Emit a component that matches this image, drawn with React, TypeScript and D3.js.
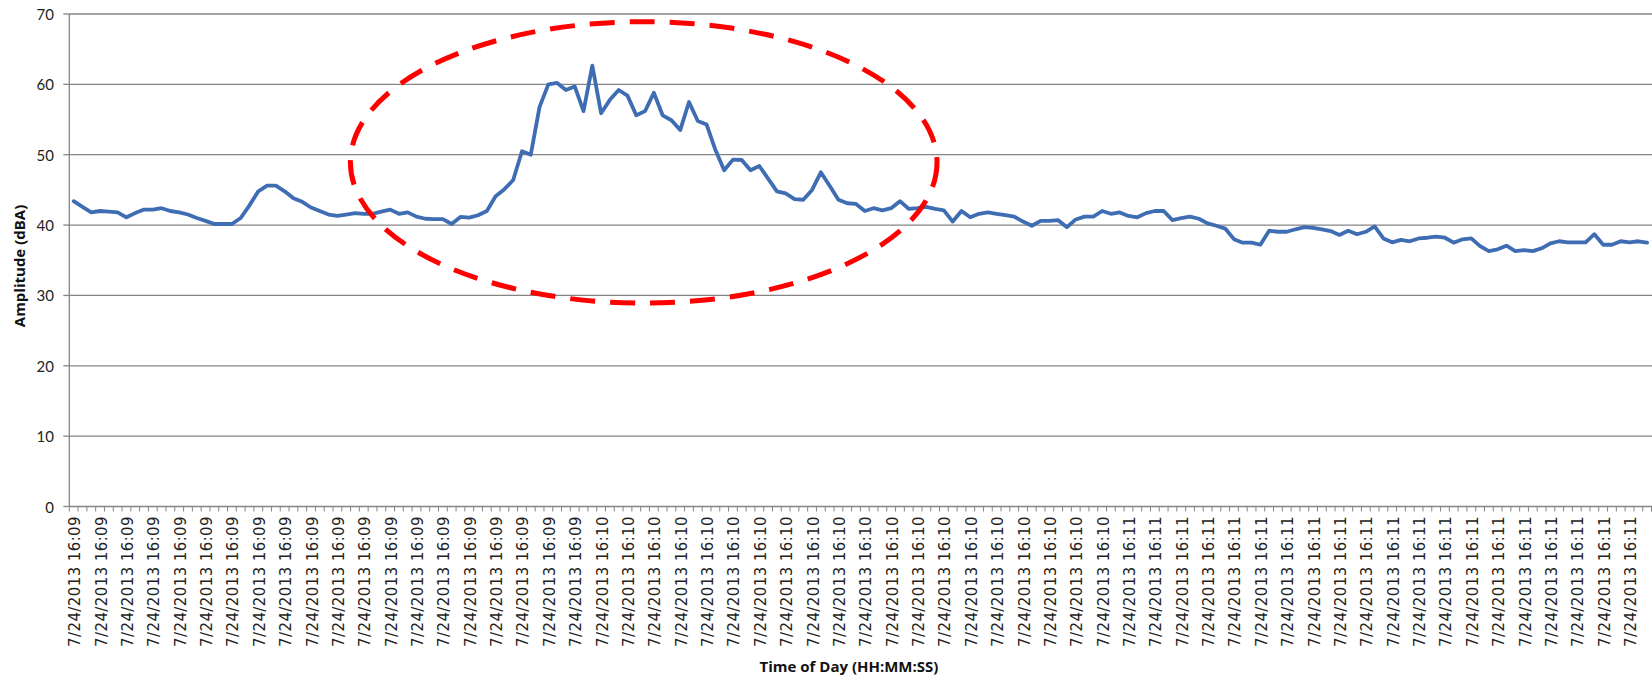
import React from "react";
import * as d3 from "d3";

// ---- Data ----
const amplitude: number[] = [
  43.4, 42.6, 41.8, 42.0, 41.9, 41.8, 41.1, 41.7, 42.2, 42.2,
  42.4, 42.0, 41.8, 41.5, 41.0, 40.6, 40.15, 40.15, 40.15, 41.0,
  42.8, 44.8, 45.6, 45.6, 44.8, 43.8, 43.3, 42.5, 42.0, 41.5,
  41.3, 41.5, 41.7, 41.6, 41.6, 41.9, 42.2, 41.6, 41.8, 41.2,
  40.9, 40.85, 40.85, 40.15, 41.15, 41.05, 41.4, 42.0, 44.1, 45.1,
  46.4, 50.5, 50.0, 56.8, 60.0, 60.2, 59.2, 59.7, 56.2, 62.65,
  55.9, 57.8, 59.2, 58.4, 55.6, 56.2, 58.8, 55.6, 54.9, 53.5,
  57.5, 54.8, 54.3, 50.7, 47.8, 49.3, 49.25, 47.8, 48.4, 46.6,
  44.8, 44.5, 43.7, 43.6, 45.0, 47.5, 45.6, 43.6, 43.1, 43.0,
  42.0, 42.4, 42.1, 42.4, 43.4, 42.3, 42.4, 42.6, 42.3, 42.1,
  40.5, 42.0, 41.1, 41.6, 41.8, 41.6, 41.4, 41.2, 40.5, 39.9,
  40.6, 40.6, 40.7, 39.7, 40.8, 41.2, 41.2, 42.0, 41.6, 41.8,
  41.3, 41.1, 41.7, 42.0, 42.0, 40.7, 41.0, 41.2, 40.9, 40.25,
  39.9, 39.5, 38.0, 37.5, 37.5, 37.2, 39.2, 39.05, 39.05, 39.4,
  39.7, 39.6, 39.4, 39.15, 38.6, 39.2, 38.7, 39.05, 39.8, 38.1,
  37.55, 37.9, 37.7, 38.1, 38.2, 38.35, 38.2, 37.5, 37.98, 38.1,
  37.0, 36.3, 36.55, 37.07, 36.3, 36.45, 36.3, 36.7, 37.4, 37.7,
  37.55, 37.55, 37.55, 38.7, 37.2, 37.2, 37.7, 37.55, 37.7, 37.5,
];
const minuteLabels: string[] = ["7/24/2013 16:09", "7/24/2013 16:10", "7/24/2013 16:11"];
const samplesPerMinute = 60;
const labelEvery = 3;
const yTicks: number[] = [0, 10, 20, 30, 40, 50, 60, 70];
const yTitle = "Amplitude (dBA)";
const xTitle = "Time of Day (HH:MM:SS)";

// category labels: one per sample
const categoryLabels: string[] = amplitude.map(
  (_, i) => minuteLabels[Math.floor(i / samplesPerMinute)]
);

export default function App() {
  const W = 1652;
  const H = 679;
  const x0 = 69.3;
  const x1 = 1651.5;
  const yTop = 14;
  const yBot = 506.5;

  const idx = amplitude.map((_, i) => i);
  const x = d3.scalePoint<number>().domain(idx).range([x0, x1]).padding(0.5);
  const step = (x1 - x0) / amplitude.length;
  const y = d3.scaleLinear().domain([0, 70]).range([yBot, yTop]);

  const line = d3
    .line<number>()
    .x((_, i) => x(i) as number)
    .y((d) => y(d));

  const tickBounds = d3.range(amplitude.length + 1).map((k) => x0 + k * step);
  const labelIdx = idx.filter((i) => i % labelEvery === 0);

  const gridColor = "#858585";

  return (
    <svg
      width={W}
      height={H}
      style={{ position: "absolute", left: 0, top: 0, background: "#fff" }}
      xmlns="http://www.w3.org/2000/svg"
    >
      <rect x={0} y={0} width={W} height={H} fill="#fff" />
      {/* gridlines */}
      {yTicks.filter((t) => t > 0).map((t) => (
        <line key={"g" + t} x1={x0} x2={W} y1={y(t)} y2={y(t)} stroke={gridColor} strokeWidth={1.3} />
      ))}
      {/* y axis */}
      <line x1={x0} x2={x0} y1={yTop} y2={yBot} stroke={gridColor} strokeWidth={1.3} />
      {yTicks.map((t) => (
        <line key={"yt" + t} x1={x0 - 6} x2={x0} y1={y(t)} y2={y(t)} stroke={gridColor} strokeWidth={1.3} />
      ))}
      {yTicks.map((t) => (
        <text
          key={"yl" + t}
          x={54}
          y={y(t)}
          textAnchor="end"
          dominantBaseline="central"
          fontFamily="Lato, 'Open Sans', sans-serif"
          fontSize={15}
          fill="#222"
        >
          {t}
        </text>
      ))}
      {/* x axis */}
      <line x1={x0} x2={W} y1={yBot} y2={yBot} stroke={gridColor} strokeWidth={1.3} />
      {tickBounds.map((tx, k) => (
        <line key={"xt" + k} x1={tx} x2={tx} y1={yBot} y2={yBot + 5} stroke={gridColor} strokeWidth={1} />
      ))}
      {labelIdx.map((i) => {
        const cx = (x(i) as number) + 1.5;
        const ty = 516;
        return (
          <text
            key={"xl" + i}
            transform={`translate(${cx},${ty}) rotate(-90)`}
            textAnchor="end"
            dominantBaseline="central"
            fontFamily="'DejaVu Sans', Verdana, sans-serif"
            fontSize={15}
            letterSpacing={0.4}
            fill="#222"
          >
            {categoryLabels[i]}
          </text>
        );
      })}
      {/* titles */}
      <text
        transform={`translate(19,266) rotate(-90)`}
        textAnchor="middle"
        dominantBaseline="central"
        fontFamily="'Open Sans', Lato, sans-serif"
        fontWeight="bold"
        fontSize={15}
        fill="#111"
      >
        {yTitle}
      </text>
      <text
        x={849}
        y={666}
        textAnchor="middle"
        dominantBaseline="central"
        fontFamily="'Open Sans', Lato, sans-serif"
        fontWeight="bold"
        fontSize={15}
        fill="#111"
      >
        {xTitle}
      </text>
      {/* data line */}
      <path
        d={line(amplitude) || ""}
        fill="none"
        stroke="#3f6db3"
        strokeWidth={3.8}
        strokeLinejoin="round"
        strokeLinecap="round"
      />
      {/* red dashed annotation ellipse */}
      <ellipse
        cx={643.7}
        cy={162.4}
        rx={293.3}
        ry={140.7}
        fill="none"
        stroke="#ff0000"
        strokeWidth={5}
        strokeDasharray="25 15"
      />
    </svg>
  );
}
